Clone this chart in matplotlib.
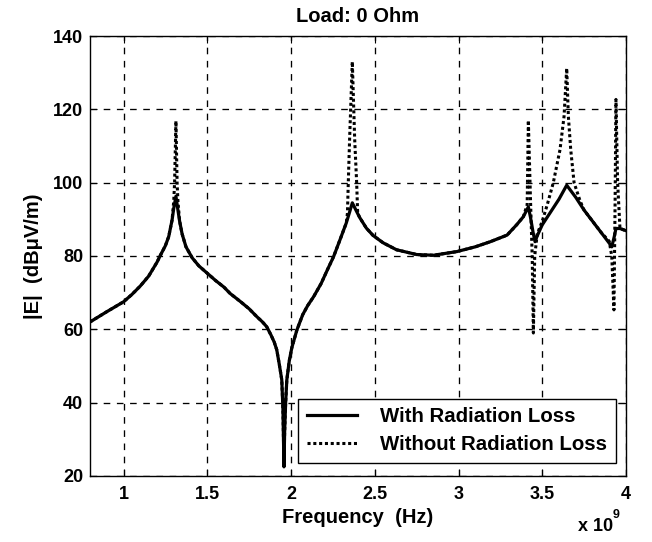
import matplotlib
matplotlib.use("Agg")
import matplotlib.pyplot as plt
import numpy as np
from matplotlib.ticker import FuncFormatter

plt.rcParams["font.family"] = ["Liberation Sans", "DejaVu Sans"]
plt.rcParams["font.weight"] = "bold"

# frequency in units of 1e9 Hz, |E| in dBuV/m
freq_with = [0.80, 0.90, 1.00, 1.05, 1.10, 1.15, 1.20, 1.218, 1.25, 1.27, 1.29, 1.30,
             1.313, 1.325, 1.335, 1.35, 1.373, 1.41, 1.45, 1.50, 1.55, 1.60, 1.636,
             1.70, 1.75, 1.795, 1.83, 1.855, 1.88, 1.90, 1.915, 1.93, 1.945, 1.952,
             1.958, 1.962, 1.968, 1.975, 1.99, 2.005, 2.035, 2.07, 2.10, 2.135, 2.18,
             2.22, 2.254, 2.294, 2.33, 2.35, 2.366, 2.39, 2.41, 2.45, 2.49, 2.55,
             2.63, 2.75, 2.85, 2.99, 3.10, 3.19, 3.29, 3.347, 3.387, 3.417, 3.43,
             3.445, 3.457, 3.47, 3.50, 3.55, 3.60, 3.646, 3.70, 3.75, 3.80, 3.85,
             3.90, 3.915, 3.93, 3.94, 3.964, 4.00]
e_with = [62.0, 64.8, 67.5, 69.5, 71.8, 74.5, 78.3, 80.0, 82.8, 85.3, 89.8, 93.0,
          96.3, 92.5, 89.5, 86.0, 82.5, 79.5, 77.3, 75.3, 73.3, 71.5, 69.8,
          67.5, 65.6, 63.5, 62.0, 60.7, 58.5, 56.5, 54.4, 50.5, 46.2, 38.0,
          22.5, 32.0, 40.0, 46.2, 51.5, 55.0, 59.8, 64.0, 66.5, 68.9, 72.5,
          76.5, 79.8, 84.6, 89.0, 92.0, 94.5, 92.3, 90.5, 87.6, 85.6, 83.6,
          81.7, 80.4, 80.2, 81.2, 82.5, 83.9, 85.7, 88.5, 90.7, 93.4, 90.5,
          86.5, 83.9, 85.5, 88.5, 92.0, 95.5, 99.3, 96.0, 92.5, 89.5, 86.5,
          83.5, 82.5, 85.3, 87.5, 87.5, 86.9]

freq_without = [0.80, 0.90, 1.00, 1.05, 1.10, 1.15, 1.20, 1.218, 1.25, 1.27, 1.29, 1.30,
                1.305, 1.313, 1.32, 1.325, 1.335, 1.35, 1.373, 1.41, 1.45, 1.50, 1.55,
                1.60, 1.636, 1.70, 1.75, 1.795, 1.83, 1.855, 1.88, 1.90, 1.915, 1.93,
                1.945, 1.952, 1.958, 1.962, 1.968, 1.975, 1.99, 2.005, 2.035, 2.07,
                2.10, 2.135, 2.18, 2.22, 2.254, 2.294, 2.33, 2.337, 2.342, 2.35, 2.366,
                2.38, 2.392, 2.398, 2.41, 2.45, 2.49, 2.55, 2.63, 2.75, 2.85, 2.99,
                3.10, 3.19, 3.29, 3.347, 3.387, 3.41, 3.417, 3.43, 3.44, 3.447, 3.455,
                3.47, 3.50, 3.53, 3.566, 3.606, 3.63, 3.646, 3.656, 3.67, 3.69, 3.726,
                3.75, 3.80, 3.85, 3.90, 3.915, 3.928, 3.935, 3.94, 3.95, 3.964, 4.00]
e_without = [62.0, 64.8, 67.5, 69.5, 71.8, 74.5, 78.3, 80.0, 82.8, 85.3, 89.8, 95.0,
             100.0, 116.8, 100.0, 95.0, 89.5, 86.0, 82.5, 79.5, 77.3, 75.3, 73.3,
             71.5, 69.8, 67.5, 65.6, 63.5, 62.0, 60.7, 58.5, 56.5, 54.4, 50.5,
             46.2, 38.0, 22.5, 32.0, 40.0, 46.2, 51.5, 55.0, 59.8, 64.0,
             66.5, 68.9, 72.5, 76.5, 79.8, 84.6, 89.0, 91.7, 100.0, 112.0, 133.0,
             112.0, 100.0, 91.7, 90.5, 87.6, 85.6, 83.6, 81.7, 80.4, 80.2, 81.2,
             82.5, 83.9, 85.7, 88.5, 90.7, 94.0, 117.0, 95.0, 80.0, 59.0, 80.0,
             86.0, 89.5, 94.0, 100.0, 109.0, 118.0, 131.2, 118.0, 109.0, 100.0, 95.0,
             92.5, 89.5, 86.5, 84.0, 80.0, 65.3, 95.0, 122.7, 100.0, 87.5, 86.9]

fig = plt.figure(figsize=(6.52, 5.42), dpi=100)
ax = fig.add_axes([90 / 652, 66 / 542, 536 / 652, 440 / 542])

fw = np.array(freq_with) * 1e9
fo = np.array(freq_without) * 1e9
ax.plot(fw, e_with, color="black", lw=2.3, solid_joinstyle="round",
        label="With Radiation Loss", zorder=3)
ax.plot(fo, e_without, color="black", lw=2.2, linestyle=(0, (1.0, 0.9)),
        label="Without Radiation Loss", zorder=2)

ax.set_xlim(0.8e9, 4e9)
ax.set_ylim(20, 140)
ax.set_xticks(np.arange(1.0, 4.01, 0.5) * 1e9)
ax.set_yticks(np.arange(20, 141, 20))
ax.xaxis.set_major_formatter(FuncFormatter(lambda v, p: f"{v / 1e9:g}"))

ax.grid(True, color="black", linestyle=(0, (5, 5)), linewidth=0.95)
ax.set_axisbelow(True)
ax.tick_params(direction="in", length=5, width=0.8, top=True, right=True,
               labelsize=13)
ax.tick_params(axis="x", pad=7)
ax.tick_params(axis="y", pad=5)
for s in ax.spines.values():
    s.set_linewidth(1.0)

ax.set_title("Load: 0 Ohm", fontsize=14.5, fontweight="bold", pad=10)
ax.set_xlabel("Frequency  (Hz)", fontsize=14.5, fontweight="bold", labelpad=4)
ax.set_ylabel("|E|  (dBμV/m)", fontsize=14.5, fontweight="bold", labelpad=7)

leg = ax.legend(loc="lower right", bbox_to_anchor=(526 / 536, 13 / 440),
                borderaxespad=0, fontsize=14.7, fancybox=False, framealpha=1,
                edgecolor="black", handlelength=2.45, handletextpad=1.15,
                borderpad=0.42, labelspacing=0.45)
leg.get_frame().set_linewidth(1.0)

fig.text(578 / 652, 1 - 531 / 542, "x 10", fontsize=13, fontweight="bold",
         ha="left", va="baseline")
fig.text(613 / 652, 1 - 518 / 542, "9", fontsize=9, fontweight="bold",
         ha="left", va="baseline")

fig.savefig("out.png", dpi=100)
